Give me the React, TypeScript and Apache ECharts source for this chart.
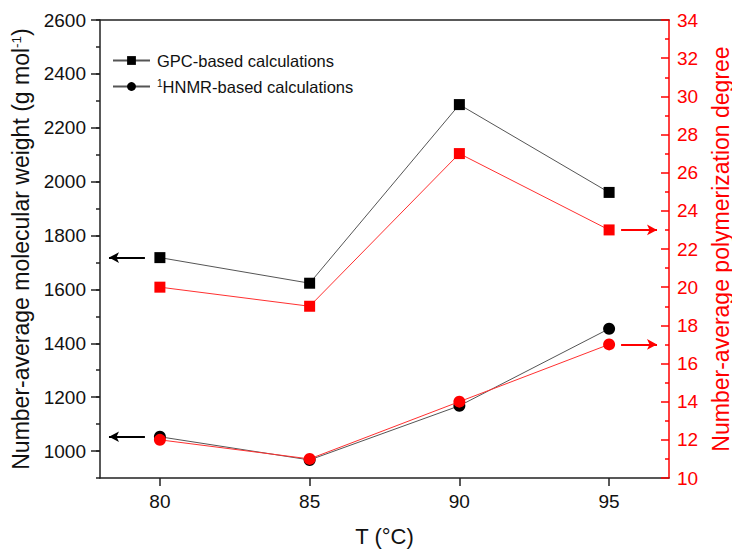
import React, { useEffect, useRef } from "react";
import * as echarts from "echarts";

const temps = [80, 85, 90, 95];
const gpcMw = [1718, 1623, 2286, 1960];
const gpcDp = [20, 19, 27, 23];
const nmrMw = [1053, 967, 1168, 1454];
const nmrDp = [12, 11, 14, 17];
const xTicks = [80, 85, 90, 95];
const mwTicks = [1000, 1200, 1400, 1600, 1800, 2000, 2200, 2400, 2600];

const FONT = "Liberation Sans, Arial, sans-serif";

export default function App() {
  const ref = useRef<HTMLDivElement>(null);
  useEffect(() => {
    if (!ref.current) return;
    const chart = echarts.init(ref.current, null, { renderer: "svg" });
    const pair = (xs: number[], ys: number[]) => xs.map((x, i) => [x, ys[i]]);
    const leftArrow = (y: number) => [
      { coord: [79.5, y] },
      { coord: [78.3, y] },
    ];
    const rightArrow = (y: number) => [
      { coord: [95.4, y] },
      { coord: [96.6, y] },
    ];
    const arrowLine = (color: string, data: any[]) => ({
      silent: true,
      symbol: ["none", "arrow"],
      symbolSize: [8, 10],
      label: { show: false },
      lineStyle: { color, width: 2, type: "solid" },
      data,
    });
    chart.setOption({
      animation: false,
      textStyle: { fontFamily: FONT },
      grid: { left: 100, right: 63, top: 20, bottom: 71, containLabel: false, outerBoundsMode: "none" },
      legend: {
        data: ["GPC", "HNMR"],
        orient: "vertical",
        left: 107,
        top: 47,
        itemWidth: 37,
        itemHeight: 11,
        itemGap: 9,
        textStyle: {
          fontSize: 16.5,
          color: "#111",
          fontFamily: FONT,
          padding: [0, 0, 0, 2],
          rich: {
            sup: { fontSize: 10, verticalAlign: "top", lineHeight: 16, color: "#111" },
            n: { fontSize: 16.5, color: "#111" },
          },
        },
        formatter: (name: string) =>
          name === "GPC" ? "{n|GPC-based calculations}" : "{sup|1}{n|HNMR-based calculations}",
      },
      xAxis: [
        {
          type: "value",
          min: 78,
          max: 97,
          name: "T (°C)",
          nameLocation: "middle",
          nameGap: 47,
          nameTextStyle: { fontSize: 22, color: "#111", fontFamily: FONT },
          axisLine: { show: true, lineStyle: { color: "#222", width: 1.5 } },
          axisTick: { show: true, length: 8, customValues: xTicks, lineStyle: { color: "#222", width: 1.5 } },
          axisLabel: { customValues: xTicks, fontSize: 19, color: "#111", margin: 14, fontFamily: FONT },
          splitLine: { show: false },
        },
        {
          type: "value",
          position: "top",
          min: 78,
          max: 97,
          axisLine: { show: true, lineStyle: { color: "#222", width: 1.5 } },
          axisTick: { show: false },
          axisLabel: { show: false },
          splitLine: { show: false },
        },
      ],
      yAxis: [
        {
          type: "value",
          min: 900,
          max: 2600,
          interval: 100,
          name: "{n|Number-average molecular weight (g mol}{sup|-1}{n|)}",
          nameLocation: "middle",
          nameGap: 62,
          nameRotate: 90,
          nameTextStyle: {
            fontSize: 23,
            color: "#111",
            fontFamily: FONT,
            rich: {
              n: { fontSize: 23, color: "#111", fontFamily: FONT },
              sup: { fontSize: 13.5, verticalAlign: "top", lineHeight: 23, color: "#111", fontFamily: FONT },
            },
          },
          axisLine: { show: true, lineStyle: { color: "#222", width: 1.5 } },
          axisTick: {
            show: true,
            length: 9,
            customValues: mwTicks,
            lineStyle: { color: "#222", width: 1.5 },
          },
          axisLabel: {
            customValues: mwTicks,
            fontSize: 19,
            color: "#111",
            margin: 14,
            fontFamily: FONT,
            formatter: (v: number) => String(v),
          },
          splitLine: { show: false },
        },
        {
          type: "value",
          min: 10,
          max: 34,
          interval: 2,
          position: "right",
          name: "Number-average polymerization degree",
          nameLocation: "middle",
          nameGap: 36,
          nameRotate: 90,
          nameTextStyle: { fontSize: 23, color: "#ff0000", fontFamily: FONT, lineHeight: 22 },
          axisLine: { show: true, lineStyle: { color: "#ff0000", width: 1.5 } },
          axisTick: { show: true, inside: true, length: 8, lineStyle: { color: "#ff0000", width: 1.5 } },
          minorTick: { show: true, splitNumber: 2, length: 4, lineStyle: { color: "#ff0000", width: 1.5 } },
          axisLabel: {
            fontSize: 19,
            color: "#ff0000",
            margin: 8,
            fontFamily: FONT,
          },
          splitLine: { show: false },
        },
        {
          type: "value",
          min: 900,
          max: 2600,
          interval: 100,
          position: "left",
          axisLine: { show: false },
          axisTick: { show: true, length: 4, lineStyle: { color: "#222", width: 1.5 } },
          axisLabel: { show: false },
          splitLine: { show: false },
        },
      ],
      series: [
        {
          name: "GPC",
          type: "line",
          xAxisIndex: 0,
          yAxisIndex: 0,
          data: pair(temps, gpcMw),
          symbol: "rect",
          symbolSize: 11,
          itemStyle: { color: "#000" },
          lineStyle: { color: "#555", width: 1 },
          markLine: arrowLine("#000", [leftArrow(gpcMw[0])]),
          z: 3,
        },
        {
          name: "HNMR",
          type: "line",
          xAxisIndex: 0,
          yAxisIndex: 0,
          data: pair(temps, nmrMw),
          symbol: "circle",
          symbolSize: 12,
          itemStyle: { color: "#000" },
          lineStyle: { color: "#555", width: 1 },
          markLine: arrowLine("#000", [leftArrow(nmrMw[0])]),
          z: 3,
        },
        {
          name: "GPC-DP",
          type: "line",
          xAxisIndex: 0,
          yAxisIndex: 1,
          data: pair(temps, gpcDp),
          symbol: "rect",
          symbolSize: 11,
          itemStyle: { color: "#ff0000" },
          lineStyle: { color: "#ff3030", width: 1 },
          markLine: arrowLine("#ff0000", [rightArrow(gpcDp[3])]),
          z: 4,
        },
        {
          name: "HNMR-DP",
          type: "line",
          xAxisIndex: 0,
          yAxisIndex: 1,
          data: pair(temps, nmrDp),
          symbol: "circle",
          symbolSize: 12,
          itemStyle: { color: "#ff0000" },
          lineStyle: { color: "#ff3030", width: 1 },
          markLine: arrowLine("#ff0000", [rightArrow(nmrDp[3])]),
          z: 4,
        },
      ],
    });
    return () => chart.dispose();
  }, []);
  return <div ref={ref} style={{ width: 732, height: 549, position: "absolute", left: 0, top: 0, background: "#fff" }} />;
}
